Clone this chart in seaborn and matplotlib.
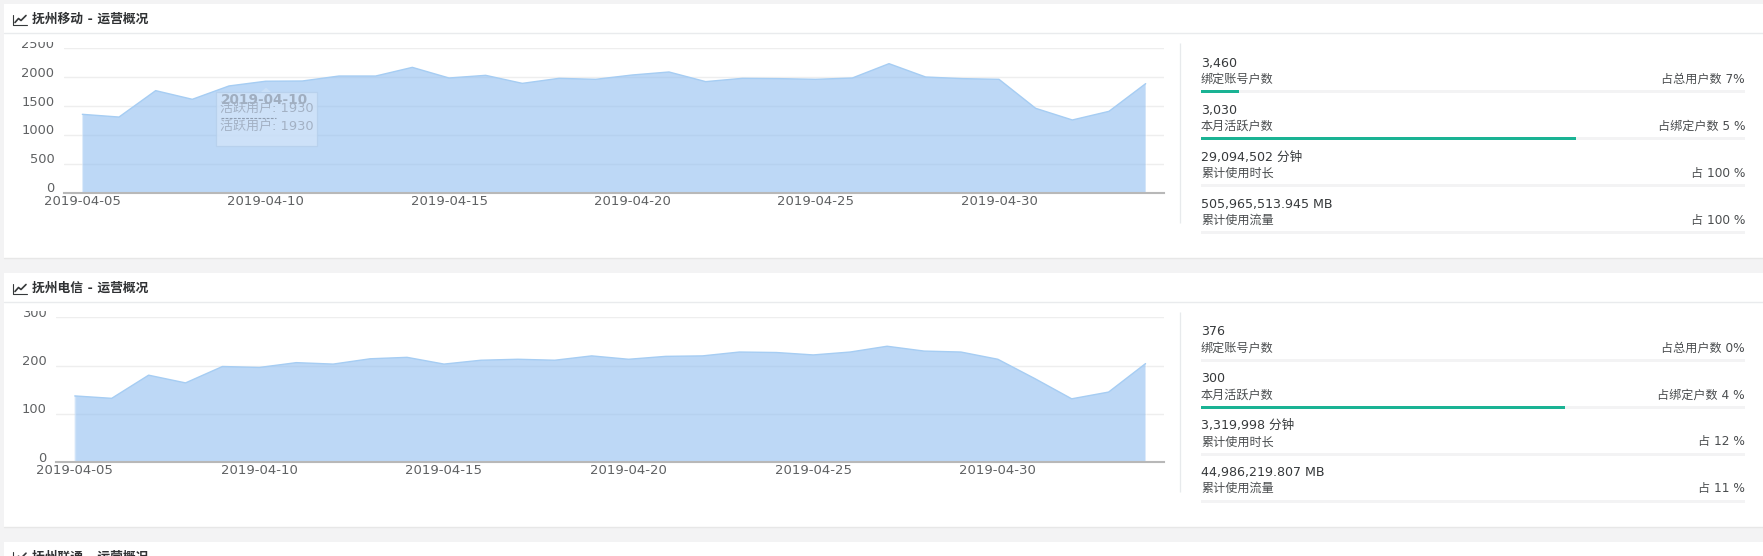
#!/usr/bin/env python3
import pandas as pd
import matplotlib
matplotlib.use("Agg")
import matplotlib.pyplot as plt
import seaborn as sns
from matplotlib.patches import Rectangle, Polygon
from matplotlib.lines import Line2D
from matplotlib.transforms import Affine2D, Bbox, ScaledTranslation, TransformedBbox

W, H = 1763, 556

# Data
dates = pd.date_range("2019-04-05", "2019-05-04", freq="D")
mobile_active = [1357, 1310, 1767, 1617, 1848, 1930, 1934, 2020, 2020, 2170,
                 1986, 2032, 1893, 1980, 1963, 2038, 2090, 1923, 1980, 1975,
                 1963, 1986, 2234, 2003, 1975, 1963, 1461, 1259, 1409, 1888]
telecom_active = [137, 132, 180, 164, 198, 196, 206, 203, 214, 217,
                  203, 211, 213, 211, 220, 213, 219, 220, 228, 227,
                  222, 228, 240, 230, 228, 213, 173, 131, 145, 204]
mobile_yticks = [0, 500, 1000, 1500, 2000, 2500]
telecom_yticks = [0, 100, 200, 300]

stat_labels = ["绑定账号户数", "本月活跃户数", "累计使用时长", "累计使用流量"]
mobile_values = ["3,460", "3,030", "29,094,502 分钟", "505,965,513.945 MB"]
mobile_shares = ["占总用户数 7%", "占绑定户数 5 %", "占 100 %", "占 100 %"]
mobile_bars = [6.9, 69, 0, 0]
telecom_values = ["376", "300", "3,319,998 分钟", "44,986,219.807 MB"]
telecom_shares = ["占总用户数 0%", "占绑定户数 4 %", "占 12 %", "占 11 %"]
telecom_bars = [0, 66.9, 0, 0]

titles = ["抚州移动 - 运营概况", "抚州电信 - 运营概况", "抚州联通 - 运营概况"]

sns.set_theme(style="white")
plt.rcParams["font.family"] = ["DejaVu Sans", "Noto Sans CJK SC"]
plt.rcParams["font.size"] = 9

TEXT = "#5f6163"
DARK = "#36393b"
GREEN = "#1ab394"
AREA = "#91bef0"
LINE = "#a6cdf3"

fig = plt.figure(figsize=(W / 100, H / 100), dpi=100, facecolor="#f3f3f4")
# pixel coordinates, origin top left, for the page furniture
px = Affine2D().scale(1 / W, -1 / H).translate(0, 1) + fig.transFigure


def box(x0, y0, x1, y1, color, zorder=-5, **kw):
    fig.add_artist(Rectangle((x0, y0), x1 - x0, y1 - y0, transform=px,
                             facecolor=color, edgecolor="none", zorder=zorder, **kw))


def hline(x0, x1, y, color, lw=1.0, zorder=-4, **kw):
    fig.add_artist(Line2D([x0, x1], [y, y], transform=px, color=color, lw=lw, zorder=zorder, **kw))


def label(x, y, s, **kw):
    kw.setdefault("va", "center")
    kw.setdefault("color", TEXT)
    fig.text(x, y, s, transform=px, **kw)


def card(top, bottom, sep, title):
    box(4, top, W, bottom, "white")
    hline(4, W, bottom, "#e7e7e7", 1.0)
    if sep < H:
        hline(4, W, sep, "#e9ebed", 1.0)
    yc = top + 15.5
    # little line chart icon
    fig.add_artist(Line2D([13, 13, 27], [yc - 5, yc + 5, yc + 5], transform=px, color=DARK, lw=0.8))
    fig.add_artist(Line2D([15, 18.5, 21, 26], [yc + 3, yc - 1, yc + 1, yc - 4], transform=px,
                          color=DARK, lw=1.2))
    label(32.5, yc, title, fontsize=9.2, fontweight="bold", color="#2f3133")


def area_chart(left, right, top, bottom, values, yticks):
    ax = fig.add_axes([left / W, 1 - bottom / H, (right - left) / W, (bottom - top) / H])
    ax.patch.set_alpha(0)
    df = pd.DataFrame({"date": dates, "active": values})
    ax.fill_between(df["date"], df["active"], 0, facecolor=AREA, alpha=0.6,
                    edgecolor="none", zorder=2)
    # the two ends of the area look a bit washed out
    ax.vlines([dates[0], dates[-1]], 0, [values[0], values[-1]], color="white", alpha=0.3, lw=1.0, zorder=2.5)
    sns.lineplot(data=df, x="date", y="active", color=LINE, lw=1.0, ax=ax, zorder=3)
    half_day = pd.Timedelta(hours=12)
    ax.set_xlim(dates[0] - half_day, dates[-1] + half_day)
    ax.set_ylim(yticks[0], yticks[-1])
    ax.set_xlabel("")
    ax.set_ylabel("")
    ax.set_yticks(yticks)
    ax.set_yticklabels([str(v) for v in yticks])
    ax.set_xticks(dates[:26:5])
    ax.set_xticklabels([d.strftime("%Y-%m-%d") for d in dates[:26:5]])
    ax.grid(axis="y", color="#eeeeee", lw=1.0, zorder=1)
    ax.set_axisbelow(True)
    for name in ["top", "left", "right"]:
        ax.spines[name].set_visible(False)
    ax.spines["bottom"].set_color("#b8b8b8")
    ax.spines["bottom"].set_linewidth(1.5)
    ax.spines["bottom"].set_zorder(4)
    ax.tick_params(axis="x", length=4, width=0.7, color="#e6e6e6", pad=-2.5, labelcolor=TEXT, labelsize=9.5)
    ax.tick_params(axis="y", length=0, pad=7, labelcolor=TEXT, labelsize=9.4)
    # labels sit a little above their gridlines, top one is cut by the chart box
    shift = ScaledTranslation(0, 5.5 / 100, fig.dpi_scale_trans)
    clip = TransformedBbox(Bbox([[0, 0], [W, H - (top - 6.6)]]), Affine2D())
    for lab in ax.get_yticklabels():
        lab.set_transform(lab.get_transform() + shift)
        lab.set_clip_on(True)
        lab.set_clip_box(clip)
    return ax


def stats(x0, x1, first_y, step, values, shares, bars):
    for i in range(4):
        y = first_y + i * step
        label(x0, y - 28.5, values[i], fontsize=9.1, color=DARK)
        label(x0, y - 12.5, stat_labels[i], fontsize=8.7, color="#4a4d4f")
        label(x1, y - 12.5, shares[i], fontsize=8.7, ha="right", color="#4a4d4f")
        box(x0, y - 1.5, x1, y + 1.5, "#f3f3f4")
        if bars[i] > 0:
            box(x0, y - 1.5, x0 + (x1 - x0) * bars[i] / 100, y + 1.5, GREEN, zorder=-3)


def divider(x, y0, y1):
    fig.add_artist(Line2D([x, x], [y0, y1], transform=px, color="#e7eaec", lw=0.9, zorder=-4,
                          solid_capstyle="butt"))


def tooltip():
    # the hover box frozen over 2019-04-10
    fig.add_artist(Rectangle((215.5, 91.7), 101.5, 54.3, transform=px, facecolor="#d4e5f9",
                             edgecolor="#b3cdea", lw=0.9, alpha=0.7, zorder=5))
    fig.add_artist(Polygon([[261, 92], [266, 87.5], [271, 92]], transform=px, facecolor="#c9dff7",
                           edgecolor="none", zorder=5))
    label(221, 99.5, "2019-04-10", fontsize=9.8, fontweight="bold", color="#a0aec0", zorder=6)
    label(220.5, 108.7, "活跃用户: 1930", fontsize=9.4, color="#a3b1c4", zorder=6)
    fig.add_artist(Line2D([221, 275.5], [118, 118], transform=px, color="#8f9db0", lw=0.8,
                          ls=(0, (2.5, 1.2)), zorder=6))
    label(220.5, 126.7, "活跃用户: 1930", fontsize=9.4, color="#a3b1c4", zorder=6)


card(4, 258, 33.3, titles[0])
card(273, 527, 302.3, titles[1])
card(541.7, H + 10, H + 10, titles[2])

area_chart(64, 1164, 48.3, 192.7, mobile_active, mobile_yticks)
area_chart(56.3, 1164, 317.3, 462, telecom_active, telecom_yticks)
tooltip()

divider(1179.8, 42.7, 222.7)
divider(1179.8, 312, 491.7)

stats(1201, 1745, 91.7, 47, mobile_values, mobile_shares, mobile_bars)
stats(1201, 1745, 360.3, 47, telecom_values, telecom_shares, telecom_bars)

fig.savefig("out.png", dpi=100, facecolor=fig.get_facecolor())
